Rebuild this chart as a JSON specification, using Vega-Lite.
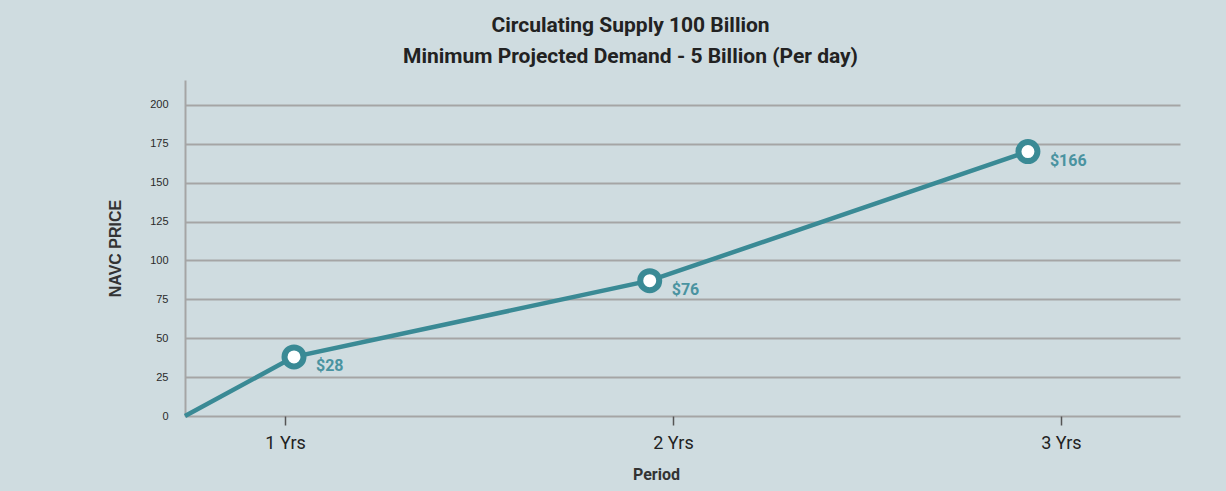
{
  "$schema": "https://vega.github.io/schema/vega-lite/v6.json",
  "autosize": "none",
  "width": 995,
  "height": 336,
  "padding": {"left": 185, "top": 80, "right": 46, "bottom": 75},
  "background": "#cfdce0",
  "config": {"view": {"stroke": null}},
  "title": {
    "text": ["Circulating Supply 100 Billion", "Minimum Projected Demand - 5 Billion (Per day)"],
    "font": "Roboto",
    "fontSize": 21,
    "fontWeight": "bold",
    "color": "#222222",
    "lineHeight": 31,
    "anchor": "middle",
    "dx": -52,
    "offset": 13
  },
  "data": {
    "values": [
      {"period": 0.742, "price": 0, "label": ""},
      {"period": 1.023, "price": 38, "label": "$28"},
      {"period": 1.94, "price": 87, "label": "$76"},
      {"period": 2.915, "price": 170, "label": "$166"}
    ]
  },
  "encoding": {
    "x": {
      "field": "period",
      "type": "quantitative",
      "scale": {"domain": [0.742, 3.307], "nice": false, "zero": false},
      "axis": {
        "title": "Period",
        "titleFont": "Roboto",
        "titleFontSize": 16,
        "titleFontWeight": "bold",
        "titleColor": "#333333",
        "titlePadding": 14,
        "titleX": 471,
        "titleAnchor": "start",
        "titleAlign": "center",
        "values": [1, 2, 3],
        "labelExpr": "datum.value + ' Yrs'",
        "labelFont": "Roboto",
        "labelFontSize": 18,
        "labelColor": "#222222",
        "labelPadding": 9,
        "grid": false,
        "domain": false,
        "ticks": true,
        "tickSize": 9,
        "tickColor": "#555555",
        "tickWidth": 1.5
      }
    },
    "y": {
      "field": "price",
      "type": "quantitative",
      "scale": {"domain": [0, 216], "nice": false},
      "axis": {
        "title": "NAVC PRICE",
        "titleFont": "Liberation Sans",
        "titleFontSize": 16,
        "titleFontWeight": "bold",
        "titleColor": "#333333",
        "titlePadding": 26,
        "values": [0, 25, 50, 75, 100, 125, 150, 175, 200],
        "labelFont": "Liberation Sans",
        "labelFontSize": 11,
        "labelColor": "#2a2a2a",
        "labelPadding": 17,
        "ticks": false,
        "grid": true,
        "gridColor": "#a5a5a5",
        "gridWidth": 2,
        "domain": true,
        "domainColor": "#a5a5a5",
        "domainWidth": 2
      }
    }
  },
  "layer": [
    {
      "mark": {"type": "line", "color": "#3a8a95", "strokeWidth": 4.5}
    },
    {
      "transform": [{"filter": "datum.price > 0"}],
      "mark": {"type": "point", "filled": true, "fill": "#ffffff", "stroke": "#3a8a95", "strokeWidth": 6, "size": 360, "opacity": 1}
    },
    {
      "transform": [{"filter": "datum.price > 0"}],
      "mark": {"type": "text", "align": "left", "baseline": "middle", "dx": 22, "dy": 9, "font": "Roboto", "fontSize": 16, "fontWeight": "bold", "color": "#4a93a0"},
      "encoding": {"text": {"field": "label"}}
    }
  ]
}
